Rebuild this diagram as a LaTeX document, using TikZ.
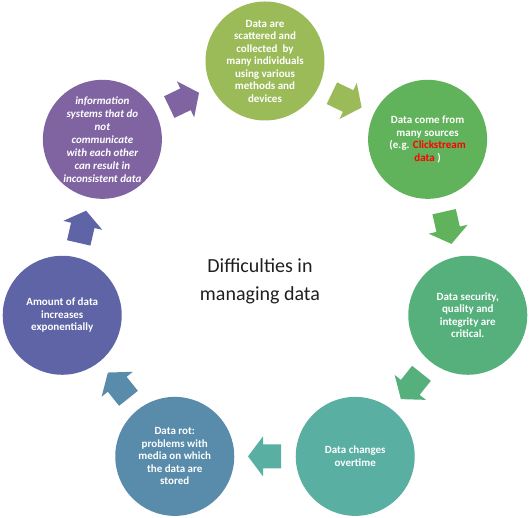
\documentclass[tikz,border=0pt]{standalone}
\usepackage{fontspec}
\setmainfont{Carlito}
\usetikzlibrary{calc}
\definecolor{cA}{HTML}{9BBB59}
\definecolor{cB}{HTML}{60B25B}
\definecolor{cC}{HTML}{55B07C}
\definecolor{cD}{HTML}{5AAFA3}
\definecolor{cE}{HTML}{598BAB}
\definecolor{cF}{HTML}{5E64A6}
\definecolor{cG}{HTML}{8064A2}
\begin{document}
\begin{tikzpicture}[x=1pt,y=1pt,
  bubble/.style={circle, minimum size=119pt, inner sep=0pt, text=white,
    font=\fontsize{11}{12.5}\selectfont\bfseries, align=center},
  titletext/.style={font=\fontsize{20}{28}\selectfont, align=center, text=black!88}]
\useasboundingbox (0,0) rectangle (530,518);
\coordinate (O) at (265,249);
% circles
\node[bubble, fill=cA] (c1) at ($(O)+({90}:208pt)$) {Data are\\scattered and\\collected\ \ by\\many individuals\\using various\\methods and\\devices};
\node[bubble, fill=cB] (c2) at ($(O)+({90-1*360/7}:208pt)$) {Data come from\\many sources\\(e.g. {\color{red}Clickstream}\\{\color{red}data} )};
\node[bubble, fill=cC] (c3) at ($(O)+({90-2*360/7}:208pt)$) {Data security,\\quality and\\integrity are\\critical.};
\node[bubble, fill=cD] (c4) at ($(O)+({90-3*360/7}:208pt)$) {Data changes\\overtime};
\node[bubble, fill=cE] (c5) at ($(O)+({90-4*360/7}:208pt)$) {Data rot:\\problems with\\media on which\\the data are\\stored};
\node[bubble, fill=cF] (c6) at ($(O)+({90-5*360/7}:208pt)$) {Amount of data\\increases\\exponentially};
\node[bubble, fill=cG, font=\fontsize{11}{13}\selectfont\bfseries\itshape] (c7) at ($(O)+({90-6*360/7}:208pt)$) {information\\systems that do\\not\\communicate\\with each other\\can result in\\inconsistent data};
% title
\node[titletext] (title) at (260,237) {Difficulties in\\managing data};
% arrows between consecutive circles
\foreach \i/\a/\b/\col in {1/c1/c2/cA,2/c2/c3/cB,3/c3/c4/cC,4/c4/c5/cD,5/c5/c6/cE,6/c6/c7/cF,7/c7/c1/cG}{
  \coordinate (m\i) at ($(\a)!0.5!(\b)$);
  \fill[\col, shift={(m\i)}, rotate={-(\i-0.5)*360/7}]
    (-16,12) -- (2,12) -- (2,20) -- (17,0) -- (2,-20) -- (2,-12) -- (-16,-12) -- cycle;
}
\end{tikzpicture}
\end{document}
